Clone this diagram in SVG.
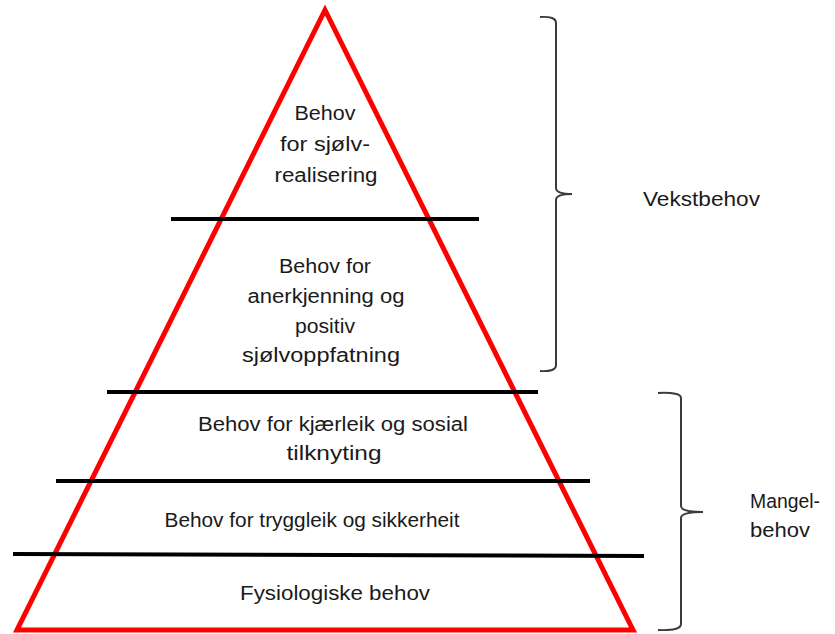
<svg xmlns="http://www.w3.org/2000/svg" width="835" height="634" viewBox="0 0 835 634">
<style>
.t{font-family:"Liberation Sans",Arial,sans-serif;font-size:20px;fill:#1a1a1a;text-anchor:middle}
.l{font-family:"Liberation Sans",Arial,sans-serif;font-size:20px;fill:#1a1a1a}
.sep{stroke:#000;stroke-width:4;fill:none}
.br{stroke:#3a3a3a;stroke-width:2;fill:none}
</style>
<rect width="835" height="634" fill="#fff"/>
<g id="pyramid">
<polygon points="325,10 17,630 633,630" fill="none" stroke="#ff0000" stroke-width="5" stroke-linejoin="miter"/>
</g>
<g id="connectors">
<line class="sep" x1="171" y1="219" x2="479" y2="219"/>
<line class="sep" x1="107" y1="392" x2="538" y2="392"/>
<line class="sep" x1="56" y1="481" x2="590" y2="481"/>
<line class="sep" x1="13" y1="554" x2="644" y2="556"/>
<path class="br" d="M540,17 Q556,16 556,23 V188 Q556,194 572,194 Q556,194 556,200 V365 Q556,372 540,371"/>
<path class="br" d="M658,393 Q681,392 681,398 V506 Q681,512 703,512 Q681,512 681,518 V624 Q681,631 658,630"/>
</g>
<g id="level5">
<text class="t" x="325" y="120" textLength="61" lengthAdjust="spacingAndGlyphs">Behov</text>
<text class="t" x="325" y="151" textLength="90" lengthAdjust="spacingAndGlyphs">for sjølv-</text>
<text class="t" x="326" y="182" textLength="103" lengthAdjust="spacingAndGlyphs">realisering</text>
</g>
<g id="level4">
<text class="t" x="325" y="273" textLength="92" lengthAdjust="spacingAndGlyphs">Behov for</text>
<text class="t" x="326" y="303" textLength="157" lengthAdjust="spacingAndGlyphs">anerkjenning og</text>
<text class="t" x="325" y="333" textLength="60" lengthAdjust="spacingAndGlyphs">positiv</text>
<text class="t" x="321" y="362" textLength="158" lengthAdjust="spacingAndGlyphs">sjølvoppfatning</text>
</g>
<g id="level3">
<text class="t" x="333" y="431" textLength="270" lengthAdjust="spacingAndGlyphs">Behov for kjærleik og sosial</text>
<text class="t" x="334" y="460" textLength="95" lengthAdjust="spacingAndGlyphs">tilknyting</text>
</g>
<g id="level2">
<text class="t" x="312" y="527" textLength="295" lengthAdjust="spacingAndGlyphs">Behov for tryggleik og sikkerheit</text>
</g>
<g id="level1">
<text class="t" x="335" y="600" textLength="190" lengthAdjust="spacingAndGlyphs">Fysiologiske behov</text>
</g>
<g id="vekstbehov">
<text class="l" x="643" y="206" textLength="117" lengthAdjust="spacingAndGlyphs">Vekstbehov</text>
</g>
<g id="mangelbehov">
<text class="l" x="750" y="508" textLength="70" lengthAdjust="spacingAndGlyphs">Mangel-</text>
<text class="l" x="750" y="537" textLength="60" lengthAdjust="spacingAndGlyphs">behov</text>
</g>
</svg>
